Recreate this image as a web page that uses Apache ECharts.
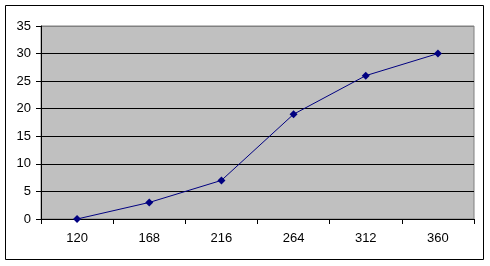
<!DOCTYPE html>
<html><head><meta charset="utf-8">
<script src="https://cdn.jsdelivr.net/npm/echarts@6/dist/echarts.min.js"></script>
<style>html,body{margin:0;padding:0;background:#fff}#c{width:490px;height:266px}</style>
</head><body><div id="c"></div>
<script>
const categories = ['120','168','216','264','312','360'];
const values = [0, 3, 7, 19, 26, 30];
const yMin = 0, yMax = 35, yStep = 5;

const chart = echarts.init(document.getElementById('c'));
chart.setOption({
  animation: false,
  backgroundColor: '#fff',
  graphic: [{type:'rect', shape:{x:5.5,y:5.5,width:478,height:254}, style:{fill:'none', stroke:'#000', lineWidth:1}, z:100}],
  grid: {left:41, top:26, right:16, bottom:47, show:true, backgroundColor:'#C0C0C0', borderColor:'#808080', borderWidth:1},
  xAxis: {
    type:'category', data:categories, boundaryGap:true,
    axisLine:{lineStyle:{color:'#000', width:1}},
    axisTick:{show:true, length:5, lineStyle:{color:'#000'}},
    axisLabel:{color:'#000', fontFamily:'Liberation Sans, Arial', fontSize:13, margin:13}
  },
  yAxis: {
    type:'value', min:yMin, max:yMax, interval:yStep,
    axisLine:{show:true, lineStyle:{color:'#000', width:1}},
    axisTick:{show:true, length:5, lineStyle:{color:'#000'}},
    axisLabel:{color:'#000', fontFamily:'Liberation Sans, Arial', fontSize:13, margin:10},
    splitLine:{show:true, lineStyle:{color:['#000','#000','#000','#000','#000','#000','#000','#808080'], width:1}}
  },
  series: [{
    type:'line', data:values, symbol:'diamond', symbolSize:8,
    lineStyle:{color:'#000080', width:1},
    itemStyle:{color:'#000080'}
  }]
});
</script></body></html>
